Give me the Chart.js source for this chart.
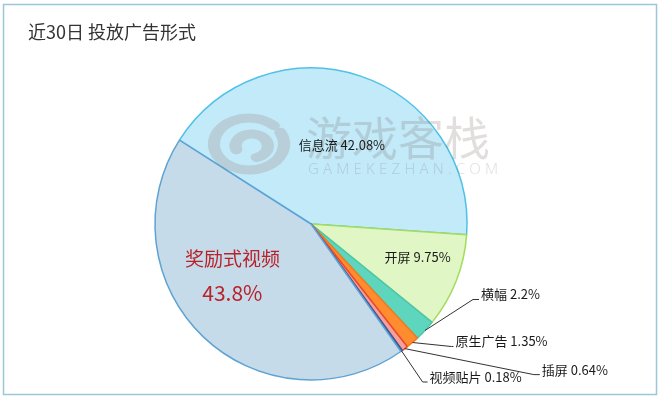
<!DOCTYPE html>
<html><head><meta charset="utf-8">
<script src="https://cdn.jsdelivr.net/npm/chart.js@4/dist/chart.umd.min.js"></script>
<style>html,body{margin:0;padding:0;background:#fff;overflow:hidden}#c{display:block}</style>
</head><body>
<canvas id="c" width="660" height="399" style="width:660px;height:399px"></canvas>
<script>
// ---- data ----
const titleText = '近30日 投放广告形式';
const categories = ['信息流', '开屏', '横幅', '原生广告', '插屏', '视频贴片', '奖励式视频'];
const shares = [42.08, 9.75, 2.2, 1.35, 0.64, 0.18, 43.8];
const shareLabels = ['42.08%', '9.75%', '2.2%', '1.35%', '0.64%', '0.18%', '43.8%'];
const fillColors = ['#c2eaf9', '#e0f6c4', '#5ed6bd', '#ff8c2e', '#f5a19b', '#5a79c0', '#c5dbea'];
const borderColors = ['#4fc1e9', '#a3dc5e', '#4cc7aa', '#f47a1a', '#e9472e', '#3a5a9e', '#5fa3d3'];

const FONT = '"Noto Sans CJK SC", "Noto Sans", sans-serif';

// label placement styles (index -> style)
const insideStyle = {
  0: {r: 0.53, dx: 5, dy: 0},
  1: {r: 0.70, dx: 5, dy: -7},
  6: {r: 0.60, dx: -14, dy: -16, big: true}
};
const outsideStyle = {
  2: {ex: 48, ey: -31, h: 6},
  3: {ex: 39, ey: 4, h: 2},
  4: {ex: 129, ey: 26, h: 6},
  5: {ex: 21, ey: 31, h: 5}
};

function arcGeom(arc) {
  const p = arc.getProps(['x', 'y', 'startAngle', 'endAngle', 'outerRadius'], true);
  const mid = (p.startAngle + p.endAngle) / 2;
  return {x: p.x, y: p.y, mid, R: p.outerRadius};
}

const customPlugin = {
  id: 'custom',
  beforeDraw(chart) {
    const ctx = chart.ctx;
    ctx.save();
    ctx.fillStyle = '#fff';
    ctx.fillRect(0, 0, chart.width, chart.height);
    ctx.strokeStyle = '#9cc7d8';
    ctx.lineWidth = 1.5;
    ctx.strokeRect(3.5, 4.5, 653, 390);
    ctx.restore();
  },
  afterDatasetsDraw(chart) {
    const ctx = chart.ctx;
    const meta = chart.getDatasetMeta(0);
    const c0 = arcGeom(meta.data[0]);
    // watermark
    ctx.save();
    ctx.fillStyle = 'rgba(120,105,100,0.22)';
    ctx.font = '46px ' + FONT;
    ctx.textBaseline = 'middle';
    ctx.textAlign = 'left';
    ctx.fillText('游戏客栈', c0.x - 5, c0.y - 86);
    ctx.font = '300 15px "Noto Sans", sans-serif';
    const wm = 'GAMEKEZHAN.COM';
    const w = ctx.measureText(wm).width;
    let sp = (189 - w) / (wm.length - 1);
    let xx = c0.x - 3;
    for (const ch of wm) {
      ctx.fillText(ch, xx, c0.y - 54);
      xx += ctx.measureText(ch).width + sp;
    }
    // spiral logo
    ctx.strokeStyle = 'rgba(150,110,100,0.22)';
    ctx.lineCap = 'round';
    ctx.translate(c0.x - 62, c0.y - 80);
    ctx.scale(1.35, 1);
    ctx.lineWidth = 9;
    ctx.beginPath();
    ctx.arc(0, 0, 26, -0.15 * Math.PI, 1.75 * Math.PI, false);
    ctx.stroke();
    ctx.beginPath();
    ctx.arc(2, 2, 12, 0.9 * Math.PI, 2.4 * Math.PI, false);
    ctx.stroke();
    ctx.restore();

    // labels
    ctx.save();
    ctx.textBaseline = 'middle';
    meta.data.forEach((arc, i) => {
      const g = arcGeom(arc);
      if (insideStyle[i]) {
        const s = insideStyle[i];
        const px = g.x + Math.cos(g.mid) * g.R * s.r + s.dx;
        const py = g.y + Math.sin(g.mid) * g.R * s.r + s.dy;
        ctx.textAlign = 'center';
        if (s.big) {
          ctx.fillStyle = '#b8232b';
          ctx.font = '19px ' + FONT;
          ctx.fillText(categories[i], px, py - 17);
          ctx.font = '21px ' + FONT;
          ctx.fillText(shareLabels[i], px, py + 17);
        } else {
          ctx.fillStyle = '#1a1a1a';
          ctx.font = '13px ' + FONT;
          ctx.fillText(categories[i] + ' ' + shareLabels[i], px, py);
        }
      } else if (outsideStyle[i]) {
        const s = outsideStyle[i];
        const sx = g.x + Math.cos(g.mid) * g.R;
        const sy = g.y + Math.sin(g.mid) * g.R;
        const ex = sx + s.ex, ey = sy + s.ey;
        ctx.strokeStyle = '#333';
        ctx.lineWidth = 1;
        ctx.beginPath();
        ctx.moveTo(sx, sy);
        ctx.lineTo(ex, ey);
        ctx.lineTo(ex + s.h, ey);
        ctx.stroke();
        ctx.fillStyle = '#1a1a1a';
        ctx.font = '13px ' + FONT;
        ctx.textAlign = 'left';
        ctx.fillText(categories[i] + ' ' + shareLabels[i], ex + s.h + 2, ey - 5);
      }
    });
    ctx.restore();
  }
};

new Chart(document.getElementById('c'), {
  type: 'pie',
  data: {
    labels: categories,
    datasets: [{
      data: shares,
      backgroundColor: fillColors,
      borderColor: borderColors,
      borderWidth: 1.5,
      hoverOffset: 0,
      offset: 0
    }]
  },
  options: {
    responsive: false,
    animation: false,
    rotation: -57.5,
    radius: 156,
    layout: {padding: {left: 28, right: 66, top: 0, bottom: 19}},
    plugins: {
      legend: {display: false},
      tooltip: {enabled: false},
      title: {
        display: true,
        text: titleText,
        align: 'start',
        color: '#333',
        font: {family: FONT, size: 18, weight: 'normal', lineHeight: 1.2},
        padding: {top: 21, bottom: 25.4}
      }
    }
  },
  plugins: [customPlugin]
});
</script>
</body></html>
